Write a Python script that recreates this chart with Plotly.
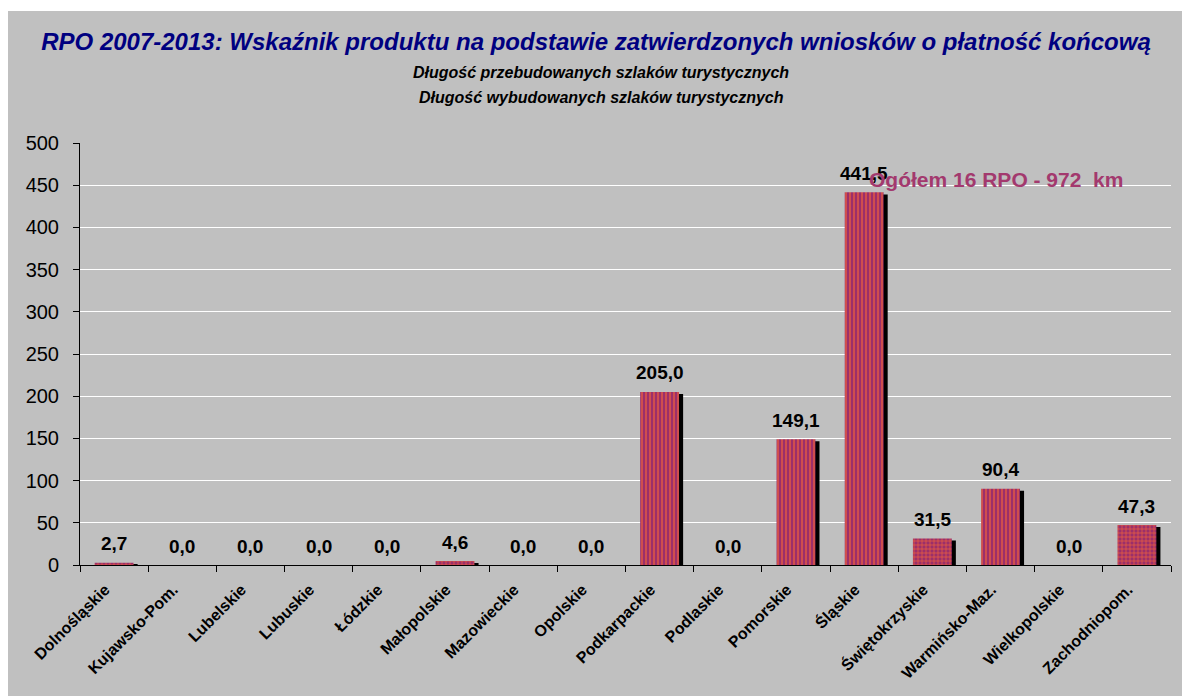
import plotly.graph_objects as go

categories = ["Dolnośląskie", "Kujawsko-Pom.", "Lubelskie", "Lubuskie", "Łódzkie",
              "Małopolskie", "Mazowieckie", "Opolskie", "Podkarpackie", "Podlaskie",
              "Pomorskie", "Śląskie", "Świętokrzyskie", "Warmińsko-Maz.",
              "Wielkopolskie", "Zachodniopom."]
values = [2.7, 0.0, 0.0, 0.0, 0.0, 4.6, 0.0, 0.0, 205.0, 0.0,
          149.1, 441.5, 31.5, 90.4, 0.0, 47.3]
y_ticks = [0, 50, 100, 150, 200, 250, 300, 350, 400, 450, 500]

title_text = "RPO 2007-2013: Wskaźnik produktu na podstawie zatwierdzonych wniosków o płatność końcową"
subtitle1 = "Długość przebudowanych szlaków turystycznych"
subtitle2 = "Długość wybudowanych szlaków turystycznych"
total_text = "Ogółem 16 RPO - 972  km"

labels = [f"{v:.1f}".replace(".", ",") for v in values]
shadow_vals = [max(v - 2.4, 0) for v in values]
pattern_shapes = ["+" if v < 60 else "|" for v in values]

FONT = "Liberation Sans, Arial, sans-serif"
BG = "#C0C0C0"
W, H = 1182, 696
L, R, T, B = 80, 11, 143, 131
PW, PH = W - L - R, H - T - B


def px_x(px):
    return (px - L) / PW


def px_y(py):
    return (H - B - py) / PH


fig = go.Figure()
fig.add_trace(go.Bar(
    x=categories, y=shadow_vals, width=0.57, offset=-0.225,
    marker=dict(color="black", line=dict(width=0)),
    hoverinfo="skip", showlegend=False))
fig.add_trace(go.Bar(
    x=categories, y=values, width=0.57, offset=-0.285,
    marker=dict(color="#9C2F6A", line=dict(width=0),
                pattern=dict(shape=pattern_shapes, fgcolor="#F2623A",
                             bgcolor="#9C2F6A", size=4, solidity=0.3,
                             fillmode="replace")),
    showlegend=False))

annotations = []
for c, v, t in zip(categories, values, labels):
    annotations.append(dict(x=c, y=v, xref="x", yref="y", text=t, showarrow=False,
                            yanchor="middle", yshift=19,
                            font=dict(family=FONT, size=19, color="black", weight="bold")))

annotations.append(dict(x=px_x(996), y=px_y(179), xref="paper", yref="paper", text=total_text,
                        showarrow=False, xanchor="center", yanchor="middle",
                        font=dict(family=FONT, size=21, color="#A3396E", weight="bold")))
annotations.append(dict(x=px_x(601), y=px_y(73), xref="paper", yref="paper",
                        text=f"<i>{subtitle1}</i>", showarrow=False,
                        xanchor="center", yanchor="middle",
                        font=dict(family=FONT, size=16, color="black", weight="bold")))
annotations.append(dict(x=px_x(601), y=px_y(97), xref="paper", yref="paper",
                        text=f"<i>{subtitle2}</i>", showarrow=False,
                        xanchor="center", yanchor="middle",
                        font=dict(family=FONT, size=16, color="black", weight="bold")))

shapes = [
    dict(type="rect", xref="paper", yref="paper", x0=px_x(-5), x1=px_x(W + 5),
         y0=px_y(11), y1=px_y(-5), fillcolor="white", line=dict(width=0), layer="above"),
    dict(type="rect", xref="paper", yref="paper", x0=px_x(-5), x1=px_x(8),
         y0=px_y(H + 5), y1=px_y(-5), fillcolor="white", line=dict(width=0), layer="above"),
]

fig.update_layout(
    width=W, height=H,
    margin=dict(l=L, r=R, t=T, b=B, autoexpand=False),
    paper_bgcolor=BG, plot_bgcolor=BG,
    barmode="overlay",
    title=dict(text=f"<i>{title_text}</i>", xref="container", x=596 / W,
               y=1 - 42 / H, xanchor="center", yanchor="middle",
               font=dict(family=FONT, size=24, color="#000080", weight="bold")),
    annotations=annotations,
    shapes=shapes,
    xaxis=dict(type="category", tickangle=-45, tickson="boundaries", ticks="outside",
               ticklen=6, tickcolor="black", showline=True, linecolor="black",
               linewidth=1, showgrid=False, automargin=False,
               ticklabelshift=-9, ticklabelstandoff=8,
               tickfont=dict(family=FONT, size=16, color="black", weight="bold")),
    yaxis=dict(range=[0, 500], tickvals=y_ticks, ticks="outside", ticklen=6,
               tickcolor="black", showline=True, linecolor="black", linewidth=1,
               showgrid=True, gridcolor="white", gridwidth=1, zeroline=False,
               automargin=False, ticklabelstandoff=10,
               tickfont=dict(family=FONT, size=20, color="black")),
)

fig.write_html("out.html",
               config={"displayModeBar": False},
               post_script="document.body.style.margin='0';document.body.style.overflow='hidden';")
